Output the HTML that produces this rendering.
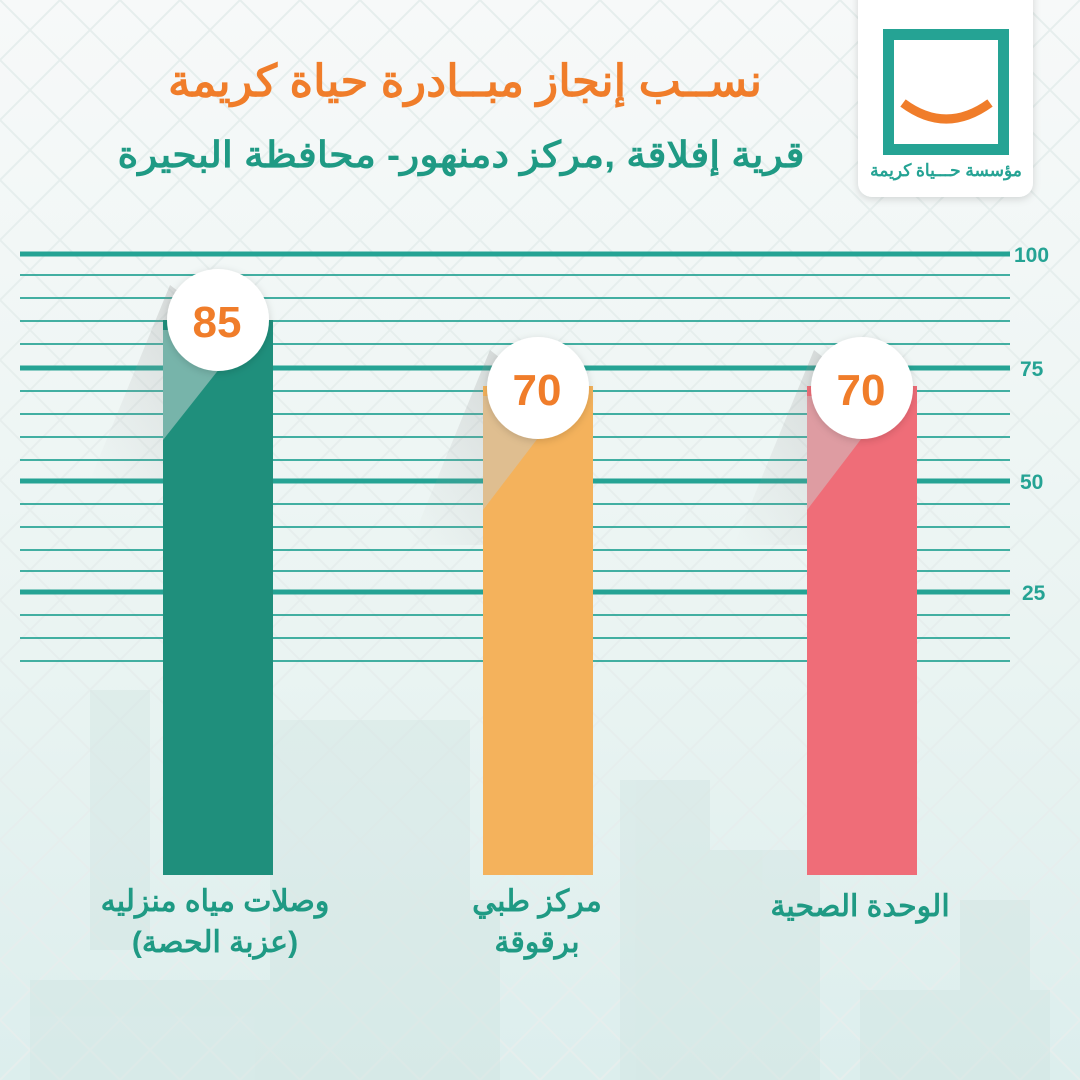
<!DOCTYPE html>
<html><head><meta charset="utf-8"><style>
html,body{margin:0;padding:0;width:1080px;height:1080px;overflow:hidden;background:#f3f8f7}
svg{display:block}
text{font-family:"Liberation Sans","Noto Sans CJK SC",sans-serif}
</style></head><body>
<svg width="1080" height="1080" viewBox="0 0 1080 1080" xmlns="http://www.w3.org/2000/svg">
<defs>
<pattern id="pat" width="60" height="60" patternUnits="userSpaceOnUse">
<path d="M0 0L60 60M60 0L0 60" stroke="#e6eeed" stroke-width="2"/>
</pattern>
<linearGradient id="bg" x1="0" y1="0" x2="0" y2="1">
<stop offset="0" stop-color="#f7f9f9"/><stop offset="0.6" stop-color="#eaf4f2"/><stop offset="1" stop-color="#dceeed"/>
</linearGradient>
<linearGradient id="sh" x1="1" y1="0" x2="0" y2="1">
<stop offset="0" stop-color="#888" stop-opacity="0.55"/><stop offset="1" stop-color="#aaa" stop-opacity="0"/>
</linearGradient>
<filter id="ds"><feDropShadow dx="0" dy="2" stdDeviation="4" flood-opacity="0.15"/></filter>
</defs>
<rect width="1080" height="1080" fill="url(#bg)"/>
<rect width="1080" height="1080" fill="url(#pat)"/>
<g fill="#cfe3e0" opacity="0.4">
<rect x="90" y="690" width="60" height="260"/><rect x="270" y="720" width="200" height="360"/>
<rect x="400" y="900" width="100" height="180"/><rect x="30" y="980" width="400" height="100"/>
<rect x="620" y="780" width="90" height="300"/><rect x="700" y="850" width="120" height="230"/>
<rect x="860" y="990" width="190" height="90"/><rect x="960" y="900" width="70" height="180"/>
</g>
<rect x="858" y="-20" width="175" height="217" rx="14" fill="#fff" filter="url(#ds)"/>
<rect x="888.5" y="34.5" width="115" height="115" fill="none" stroke="#25a394" stroke-width="11"/>
<path d="M903 103 Q946 135 990 103" fill="none" stroke="#f07d2a" stroke-width="9"/>
<text x="946" y="176" text-anchor="middle" font-size="17" fill="#25a394" font-weight="bold">مؤسسة حـــياة كريمة</text>
<text x="465" y="96" text-anchor="middle" font-size="44" fill="#f07d2a" font-weight="bold" textLength="594" lengthAdjust="spacingAndGlyphs">نســب إنجاز مبــادرة حياة كريمة</text>
<text x="461" y="167" text-anchor="middle" font-size="36" fill="#1f9a84" font-weight="bold" textLength="687" lengthAdjust="spacingAndGlyphs">قرية إفلاقة ,مركز دمنهور- محافظة البحيرة</text>
<g stroke="#25a394">
<g stroke-width="2" opacity="0.85">
<line x1="20" x2="1010" y1="275" y2="275"/><line x1="20" x2="1010" y1="298" y2="298"/><line x1="20" x2="1010" y1="321" y2="321"/><line x1="20" x2="1010" y1="344" y2="344"/>
<line x1="20" x2="1010" y1="391" y2="391"/><line x1="20" x2="1010" y1="414" y2="414"/><line x1="20" x2="1010" y1="437" y2="437"/><line x1="20" x2="1010" y1="460" y2="460"/>
<line x1="20" x2="1010" y1="504" y2="504"/><line x1="20" x2="1010" y1="527" y2="527"/><line x1="20" x2="1010" y1="550" y2="550"/><line x1="20" x2="1010" y1="571" y2="571"/>
<line x1="20" x2="1010" y1="615" y2="615"/><line x1="20" x2="1010" y1="638" y2="638"/><line x1="20" x2="1010" y1="661" y2="661"/>
</g>
<g stroke-width="5">
<line x1="20" x2="1010" y1="254" y2="254"/><line x1="20" x2="1010" y1="368" y2="368"/><line x1="20" x2="1010" y1="481" y2="481"/><line x1="20" x2="1010" y1="592" y2="592"/>
</g>
</g>
<g fill="#25a394" font-weight="bold" font-size="21">
<text x="1014" y="262">100</text><text x="1020" y="376">75</text><text x="1020" y="489">50</text><text x="1022" y="600">25</text>
</g>
<polygon points="170,285 218,322 163,440 163,480 90,480" fill="url(#sh)" opacity="0.6"/>
<polygon points="490,350 538,388 483,505 483,545 410,545" fill="url(#sh)" opacity="0.6"/>
<polygon points="814,350 862,388 807,505 807,545 734,545" fill="url(#sh)" opacity="0.6"/>
<rect x="163" y="320" width="110" height="555" fill="#1f8f7c"/>
<polygon points="163,330 250,330 163,440" fill="#9cc3bd" opacity="0.7"/>
<rect x="483" y="386" width="110" height="489" fill="#f4b25c"/>
<polygon points="483,396 570,396 483,510" fill="#d6c3a6" opacity="0.7"/>
<rect x="807" y="386" width="110" height="489" fill="#ef6d78"/>
<polygon points="807,396 894,396 807,510" fill="#d7b0b3" opacity="0.7"/>
<circle cx="218" cy="320" r="51" fill="#fff" filter="url(#ds)"/>
<circle cx="538" cy="388" r="51" fill="#fff" filter="url(#ds)"/>
<circle cx="862" cy="388" r="51" fill="#fff" filter="url(#ds)"/>
<g fill="#f07d2a" font-weight="bold" font-size="44" text-anchor="middle">
<text x="217" y="337">85</text><text x="537" y="405">70</text><text x="861" y="405">70</text>
</g>
<g fill="#1f9a84" font-weight="bold" font-size="30" text-anchor="middle">
<text x="215" y="911">وصلات مياه منزليه</text>
<text x="215" y="952">(عزبة الحصة)</text>
<text x="537" y="911">مركز طبي</text>
<text x="537" y="952">برقوقة</text>
<text x="860" y="916">الوحدة الصحية</text>
</g>
</svg>
</body></html>
